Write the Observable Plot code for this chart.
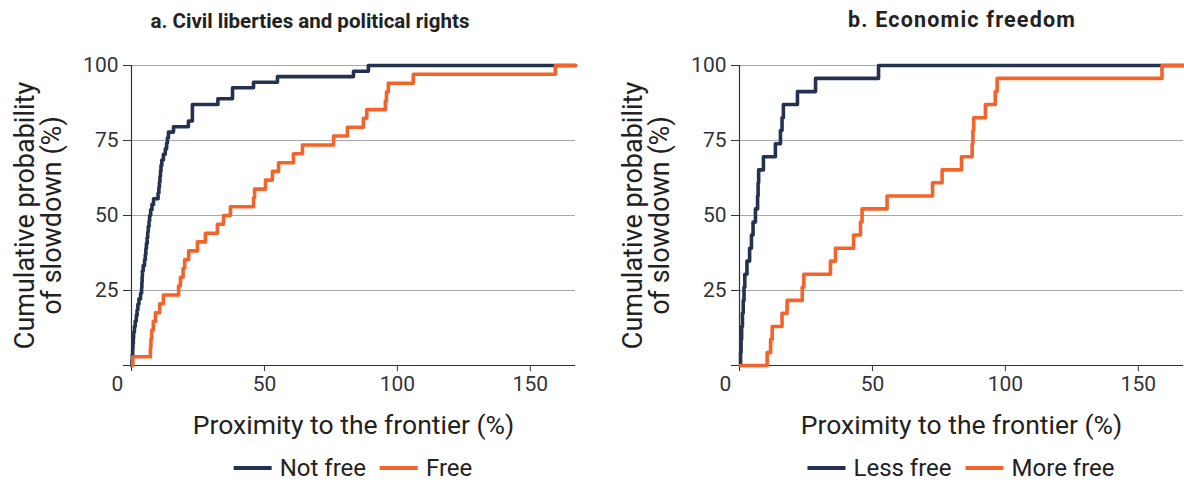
<!DOCTYPE html>
<html>
<head>
<meta charset="utf-8">
<script src="https://cdn.jsdelivr.net/npm/d3@7"></script>
<script src="https://cdn.jsdelivr.net/npm/@observablehq/plot@0.6"></script>
<style>
  body { margin: 0; background: #fff; font-family: Roboto, "Noto Sans", sans-serif; }
  #wrap { position: relative; width: 1184px; height: 482px; overflow: hidden; background: #fff; }
  .panel { position: absolute; top: 0; width: 592px; height: 482px; }
  .title { position: absolute; top: 9px; line-height: 24px; font-size: 20.5px; font-weight: 700; color: #222;
           transform: translateX(-50%); white-space: nowrap; }
  .chart { position: absolute; top: 40px; left: 0; }
  .legend { position: absolute; top: 455px; height: 26px; line-height: 26px; transform: translateX(-50%); display: flex;
            align-items: center; font-size: 24px; color: #222; white-space: nowrap; }
  .item { display: flex; align-items: center; margin: 0 7px; }
  .sw { width: 38px; height: 4px; margin-right: 8px; }
</style>
</head>
<body>
<div id="wrap"></div>
<script>
// ---------- data ----------
const xMax = 167;
const xTicks = [0, 50, 100, 150];
const yTicks = [0, 25, 50, 75, 100];
const gridTicks = [25, 50, 75, 100];
const navy = "#243250";
const orange = "#f4632a";

// Panel a: Civil liberties and political rights
const titleA = "a. Civil liberties and political rights";
const seriesA = ["Not free", "Free"];
const notFreeX = [0.1, 0.2, 0.3, 0.45, 0.55, 0.7, 0.8, 1.1, 1.4, 1.8, 2.1, 2.4, 2.8, 3.4, 3.8, 3.9, 4.0, 4.1, 4.4, 4.9, 5.2, 5.4, 5.6, 5.9, 6.1, 6.3, 6.6, 6.8, 7.2, 7.7, 8.3, 10.0, 10.3, 10.5, 10.7, 10.9, 11.1, 11.4, 12.0, 12.7, 13.2, 13.5, 13.9, 15.8, 21.4, 22.9, 32.5, 38.0, 45.9, 54.9, 83.5, 89.1, 167];
const notFreeY = [0, 1.9, 3.7, 5.6, 7.4, 9.3, 11.1, 13.0, 14.8, 16.7, 18.5, 20.4, 22.2, 24.1, 25.9, 27.8, 29.6, 31.5, 33.3, 35.2, 37.0, 38.9, 40.7, 42.6, 44.4, 46.3, 48.1, 50.0, 51.9, 53.7, 55.6, 57.4, 59.3, 61.1, 63.0, 64.8, 66.7, 68.5, 70.4, 72.2, 74.1, 75.9, 77.8, 79.6, 81.5, 87.0, 88.9, 92.6, 94.4, 96.3, 98.1, 100, 100];
const freeX = [0.4, 0.5, 7.1, 7.3, 7.6, 8.2, 9.0, 10.6, 12.0, 17.7, 18.4, 19.4, 20.0, 21.5, 24.8, 27.8, 32.3, 34.6, 37.2, 45.9, 46.3, 50.4, 53.0, 55.3, 60.9, 64.3, 76.0, 81.2, 87.2, 88.5, 95.5, 95.9, 96.6, 106.0, 159.4, 167];
const freeY = [0, 2.9, 5.9, 8.8, 11.8, 14.7, 17.6, 20.6, 23.5, 26.5, 29.4, 32.4, 35.3, 38.2, 41.2, 44.1, 47.1, 50.0, 52.9, 55.9, 58.8, 61.8, 64.7, 67.6, 70.6, 73.5, 76.5, 79.4, 82.4, 85.3, 88.2, 91.2, 94.1, 97.1, 100, 100];

// Panel b: Economic freedom
const titleB = "b. Economic freedom";
const seriesB = ["Less free", "More free"];
const lessFreeX = [0.3, 0.4, 0.6, 0.8, 1.1, 1.4, 1.7, 2.0, 2.8, 3.8, 4.5, 5.1, 6.0, 6.8, 7.0, 7.2, 9.0, 13.5, 15.4, 16.0, 16.5, 21.8, 28.6, 52.3, 167];
const lessFreeY = [0, 4.3, 8.7, 13.0, 17.4, 21.7, 26.1, 30.4, 34.8, 39.1, 43.5, 47.8, 52.2, 56.5, 60.9, 65.2, 69.6, 73.9, 78.3, 82.6, 87.0, 91.3, 95.7, 100, 100];
const moreFreeX = [0.3, 10.4, 11.7, 12.3, 16.0, 17.9, 23.6, 24.2, 34.2, 36.1, 42.9, 45.5, 46.1, 55.5, 72.6, 76.2, 83.5, 87.5, 87.8, 88.1, 92.5, 96.2, 96.9, 158.9, 167];
const moreFreeY = [0, 4.3, 8.7, 13.0, 17.4, 21.7, 26.1, 30.4, 34.8, 39.1, 43.5, 47.8, 52.2, 56.5, 60.9, 65.2, 69.6, 73.9, 78.3, 82.6, 87.0, 91.3, 95.7, 100, 100];

const yLabel = "Cumulative probability\nof slowdown (%)";
const xLabel = "Proximity to the frontier (%)";

// ---------- drawing ----------
function rows(name, xs, ys) { return xs.map((x, i) => ({ name, x, y: ys[i] })); }

function makePanel(left, title, titleCenter, titleStyle, names, data, ml, mr) {
  const panel = document.createElement("div");
  panel.className = "panel";
  panel.style.left = left + "px";

  const t = document.createElement("div");
  t.className = "title";
  t.style.left = titleCenter + "px";
  Object.assign(t.style, titleStyle);
  t.textContent = title;
  panel.appendChild(t);

  const chart = Plot.plot({
    width: 592, height: 405,
    marginTop: 25, marginBottom: 80, marginLeft: ml, marginRight: mr,
    style: { fontFamily: "Roboto, sans-serif", fontSize: "21px", color: "#333", overflow: "visible", background: "transparent" },
    x: { domain: [0, xMax] },
    y: { domain: [0, 100] },
    color: { domain: names, range: [navy, orange] },
    marks: [
      Plot.gridY(gridTicks, { stroke: "#a8a8a8", strokeOpacity: 1, strokeWidth: 1 }),
      Plot.axisY({ ticks: yTicks, tickFormat: d => d === 0 ? "" : d, tickSize: 8, tickPadding: 5, label: null, stroke: "#333", fill: "#333" }),
      Plot.axisX({ ticks: xTicks, tickFormat: d => d === 0 ? "" : d, tickSize: 6, tickPadding: 5, label: null, stroke: "#333", fill: "#333" }),
      Plot.text([0], { x: d => d, y: () => 0, text: () => "0", dx: -14, dy: 19, fill: "#333", fontSize: 21 }),
      Plot.ruleX([0], { stroke: "#333", strokeWidth: 1.2 }),
      Plot.ruleY([0], { stroke: "#333", strokeWidth: 1.2 }),
      Plot.line(data, { x: "x", y: "y", z: "name", stroke: "name", curve: "step-after", strokeWidth: 3.6 }),
      Plot.text([yLabel], { frameAnchor: "left", text: d => d, rotate: -90, dx: -93, textAnchor: "middle", lineAnchor: "middle", fontSize: 27, lineHeight: 1.0, fill: "#222" }),
      Plot.text([xLabel], { frameAnchor: "bottom", text: d => d, dy: 60, lineAnchor: "middle", fontSize: 26.5, fill: "#222" })
    ]
  });
  chart.classList.add("chart");
  panel.appendChild(chart);

  const lg = document.createElement("div");
  lg.className = "legend";
  lg.style.left = (ml + (592 - ml - mr) / 2) + "px";
  names.forEach((n, i) => {
    const it = document.createElement("div");
    it.className = "item";
    const sw = document.createElement("div");
    sw.className = "sw";
    sw.style.background = i === 0 ? navy : orange;
    const tx = document.createElement("span");
    tx.textContent = n;
    it.appendChild(sw); it.appendChild(tx);
    lg.appendChild(it);
  });
  panel.appendChild(lg);
  return panel;
}

const wrap = document.getElementById("wrap");
const dataA = rows(seriesA[0], notFreeX, notFreeY).concat(rows(seriesA[1], freeX, freeY));
const dataB = rows(seriesB[0], lessFreeX, lessFreeY).concat(rows(seriesB[1], moreFreeX, moreFreeY));
wrap.appendChild(makePanel(0, titleA, 310, {}, seriesA, dataA, 131, 17));
wrap.appendChild(makePanel(592, titleB, 370, { fontSize: "21.5px", letterSpacing: "1.2px", top: "8px" }, seriesB, dataB, 147, 1));
</script>
</body>
</html>
